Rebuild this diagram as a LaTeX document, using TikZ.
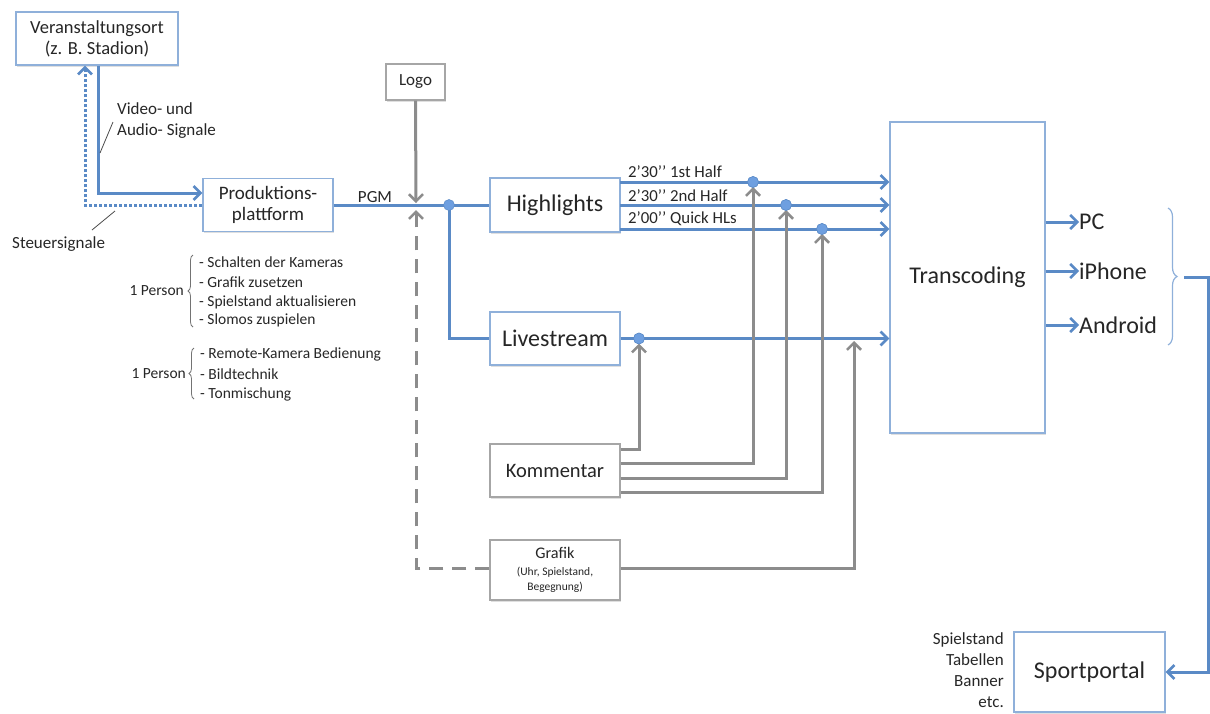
\documentclass[tikz,border=0pt]{standalone}
\usepackage{fontspec}
\setmainfont{Carlito}
\usetikzlibrary{arrows.meta,decorations.pathreplacing,shadows}
\definecolor{bline}{HTML}{5A8AC6}
\definecolor{bbox}{HTML}{8FB0DA}
\definecolor{gline}{HTML}{8C8C8C}
\definecolor{gbox}{HTML}{A6A6A6}
\definecolor{dotc}{HTML}{6E9FE0}
\definecolor{txt}{HTML}{262626}
\begin{document}
\begin{tikzpicture}[x=1pt,y=-1pt,
  every node/.style={text=txt},
  bluebox/.style={draw=bbox,line width=1.2pt,fill=white,inner sep=0pt,align=center,
    drop shadow={shadow xshift=1pt,shadow yshift=-1.5pt,opacity=0.25}},
  graybox/.style={draw=gbox,line width=1.2pt,fill=white,inner sep=0pt,align=center,
    drop shadow={shadow xshift=1pt,shadow yshift=-1.5pt,opacity=0.25}},
  tip/.style={-{Straight Barb[length=7pt,width=14pt,line width=2.6pt]}},
  bl/.style={draw=bline,line width=3pt},
  gl/.style={draw=gline,line width=3pt},
  jdot/.style={circle,fill=dotc,draw=bline,line width=0.5pt,minimum size=11pt,inner sep=0pt},
  lbl/.style={font=\fontsize{17}{21}\selectfont,inner sep=0pt},
  sm/.style={font=\fontsize{15.5}{18}\selectfont,inner sep=0pt,anchor=west},
  hls/.style={font=\fontsize{16.8}{18}\selectfont,inner sep=0pt,anchor=west},
  big/.style={font=\fontsize{24}{27}\selectfont},
]
\useasboundingbox (0,0) rectangle (1210,713);

% boxes
\node[bluebox,minimum width=162pt,minimum height=53pt,font=\fontsize{18.5}{21}\selectfont] (ven) at (97,38.5) {Veranstaltungsort\\(z. B. Stadion)};
\node[bluebox,minimum width=130pt,minimum height=53pt,font=\fontsize{19}{21}\selectfont] (prod) at (268,205) {Produktions-\\plattform};
\node[graybox,minimum width=59pt,minimum height=36pt,font=\fontsize{17}{20}\selectfont] (logo) at (415.5,82) {Logo};
\node[bluebox,minimum width=130pt,minimum height=54pt,big] (hl) at (555,205) {Highlights};
\node[bluebox,minimum width=130pt,minimum height=53pt,big] (ls) at (555,338.5) {Livestream};
\node[graybox,minimum width=130pt,minimum height=53pt,font=\fontsize{20.5}{24}\selectfont] (kom) at (555,470.5) {Kommentar};
\node[graybox,minimum width=130pt,minimum height=60pt,font=\fontsize{11.5}{15}\selectfont] (graf) at (555,570) {{\fontsize{16.2}{18}\selectfont Grafik}\\[2pt](Uhr, Spielstand,\\Begegnung)};
\node[bluebox,minimum width=155pt,minimum height=311pt,big] (trans) at (967.5,277.5) {Transcoding};
\node[bluebox,minimum width=151pt,minimum height=80pt,big] (sport) at (1089.5,672) {Sportportal};

% Veranstaltungsort <-> Produktion
\draw[bl,tip] ([xshift=1pt]ven.south) |- ([yshift=12pt]prod.west);
\draw[bl,dotted,line width=3pt,tip] (prod.west) -| ([xshift=-12pt]ven.south);
\node[lbl,anchor=west] (vlab1) at (117,109) {Video- und};
\node[lbl,anchor=west] (vlab2) at (117,131) {Audio- Signale};
\coordinate (s1a) at (100,153); \coordinate (s1b) at (113,122);
\draw[black!70,line width=0.8pt] (s1a) -- (s1b);
\node[lbl,anchor=west] (steu) at (12,244) {Steuersignale};
\coordinate (s2a) at (92,230); \coordinate (s2b) at (115,211);
\draw[black!70,line width=0.8pt] (s2a) -- (s2b);

% PGM
\draw[bl] (prod.east) -- (hl.west);
\node[lbl] (pgm) at (375,197) {PGM};
\coordinate (lg) at (416,203);
\draw[gl,tip] (logo.south) -- (lg);
\coordinate (j1) at (449,205);
\draw[bl] (j1) |- (ls.west);
\node[jdot] (d0) at (j1) {};

% Grafik dashed to PGM
\coordinate (gup) at (416,210);
\draw[gl,dash pattern=on 14pt off 9pt,tip] ([yshift=2pt]graf.west) -| (gup);

% Highlights outputs
\coordinate (h1) at (620,182); \coordinate (h2) at (620,205); \coordinate (h3) at (620,229);
\draw[bl,tip] (h1) -- (h1 -| trans.west);
\draw[bl,tip] (h2) -- (h2 -| trans.west);
\draw[bl,tip] (h3) -- (h3 -| trans.west);
\node[hls] (t1) at (628,172) {2’30’’ 1st Half};
\node[hls] (t2) at (628,196) {2’30’’ 2nd Half};
\node[hls] (t3) at (628,219) {2’00’’ Quick HLs};
\draw[bl,tip] (ls.east) -- (ls.east -| trans.west);

% Kommentar inputs
\node[jdot] (d1) at (639,338.5) {};
\node[jdot] (d2) at (753,182) {};
\node[jdot] (d3) at (786,205) {};
\node[jdot] (d4) at (822,229) {};
\draw[gl,tip] ([yshift=21pt]kom.east) -| ([yshift=-5pt]d1.center);
\draw[gl,tip] ([yshift=7pt]kom.east) -| ([yshift=-5pt]d2.center);
\draw[gl,tip] ([yshift=-7.5pt]kom.east) -| ([yshift=-5pt]d3.center);
\draw[gl,tip] ([yshift=-21.5pt]kom.east) -| ([yshift=-5pt]d4.center);
\node[jdot] at (d1) {};
\node[jdot] at (d2) {};
\node[jdot] at (d3) {};
\node[jdot] at (d4) {};
\coordinate (gin) at (854,341);
\draw[gl,tip] ([yshift=2pt]graf.east) -| (gin);

% Outputs
\node[big,anchor=west,inner sep=0pt] (pc) at (1079,222) {PC};
\node[big,anchor=west,inner sep=0pt] (iph) at (1079,271) {iPhone};
\node[big,anchor=west,inner sep=0pt] (andr) at (1079,325) {Android};
\draw[bl,tip] (trans.east |- pc.west) -- (pc.west);
\draw[bl,tip] (trans.east |- iph.west) -- (iph.west);
\draw[bl,tip] (trans.east |- andr.west) -- (andr.west);
\coordinate (br1) at (1168,208); \coordinate (br2) at (1168,345);
\draw[draw=bbox,line width=1.2pt,decorate,decoration={brace,amplitude=9pt}] (br1) -- (br2);
\coordinate (brt) at (1184,277); \coordinate (rc) at (1208,277);
\draw[bl,tip] (brt) -- (rc) |- (sport.east);

% Sportportal labels
\node[font=\fontsize{17}{21}\selectfont,align=right,anchor=north east,inner sep=0pt] (splab) at (1004,632) {Spielstand\\Tabellen\\Banner\\etc.};

% Persons
\node[sm,anchor=east] (p1) at (184,291) {1 Person};
\draw[black!55,line width=0.8pt,decorate,decoration={brace,amplitude=5pt}] (193,327) -- (193,255);
\node[sm] (a1) at (199,262) {- Schalten der Kameras};
\node[sm] (a2) at (199,282) {- Grafik zusetzen};
\node[sm] (a3) at (199,302) {- Spielstand aktualisieren};
\node[sm] (a4) at (199,320) {- Slomos zuspielen};
\node[sm,anchor=east] (p2) at (186,374) {1 Person};
\draw[black!55,line width=0.8pt,decorate,decoration={brace,amplitude=5pt}] (194,399) -- (194,348);
\node[sm] (b1) at (200,354) {- Remote-Kamera Bedienung};
\node[sm] (b2) at (200,374) {- Bildtechnik};
\node[sm] (b3) at (200,394) {- Tonmischung};
\end{tikzpicture}
\end{document}
